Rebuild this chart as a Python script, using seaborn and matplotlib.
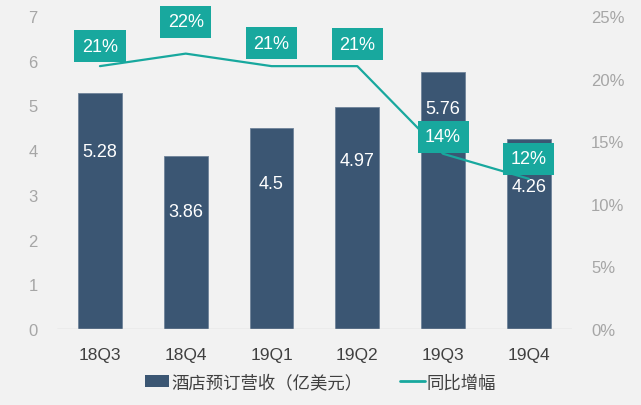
import numpy as np
import pandas as pd
import matplotlib
matplotlib.use("Agg")
import matplotlib.pyplot as plt
import seaborn as sns
from matplotlib.lines import Line2D
from matplotlib.patches import Patch

# data
quarters = ["18Q3", "18Q4", "19Q1", "19Q2", "19Q3", "19Q4"]
revenue = [5.28, 3.86, 4.5, 4.97, 5.76, 4.26]          # 酒店预订营收（亿美元）
growth = [21, 22, 21, 21, 14, 12]                        # 同比增幅 (%)
revenue_labels = ["5.28", "3.86", "4.5", "4.97", "5.76", "4.26"]

bar_color = "#3b5673"
line_color = "#18a89e"
bg = "#f2f2f2"

sns.set_theme(style="white")
plt.rcParams["font.family"] = ["Liberation Sans", "Noto Sans CJK SC", "DejaVu Sans"]

df = pd.DataFrame({"quarter": quarters, "revenue": revenue, "growth": growth})

fig = plt.figure(figsize=(6.41, 4.06), dpi=100, facecolor=bg)
ax = fig.add_axes([0.089, 0.187, 0.803, 0.771])
ax.set_facecolor(bg)

sns.barplot(data=df, x="quarter", y="revenue", color=bar_color, width=0.51,
            saturation=1, edgecolor="#6f8399", linewidth=0.6, ax=ax)
ax.set_ylim(0, 7)
ax.set_xlim(-0.5, 5.5)
ax.set_yticks(range(0, 8))
ax.set_xlabel("")
ax.set_ylabel("")
ax.tick_params(axis="y", colors="#a6a6a6", labelsize=12, length=0, pad=14)
ax.tick_params(axis="x", colors="#404040", labelsize=12.5, length=0, pad=13)
for s in ax.spines.values():
    s.set_visible(False)
ax.axhline(0, color="#d0d0d0", lw=1)

# value labels inside bars (px below bar top)
drop = [59, 55, 56, 54, 37, 48]
for i, (v, lab) in enumerate(zip(revenue, revenue_labels)):
    ax.annotate(lab, (i, v), xytext=(0, -drop[i] * 0.72), textcoords="offset points",
                ha="center", va="center", color="white", fontsize=13)

ax2 = ax.twinx()
sns.lineplot(data=df, x="quarter", y="growth", color=line_color, lw=1.6, ax=ax2,
             legend=False, sort=False)
ax2.set_ylim(0, 25)
ax2.set_yticks(range(0, 30, 5))
ax2.set_yticklabels([f"{t}%" for t in range(0, 30, 5)])
ax2.set_ylabel("")
ax2.tick_params(axis="y", colors="#a6a6a6", labelsize=12, length=0, pad=14)
for s in ax2.spines.values():
    s.set_visible(False)

lift = [20, 32, 23, 22, 17, 20]
for i, g in enumerate(growth):
    ax2.annotate(f"{g}%", (i, g), xytext=(0, lift[i] * 0.72), textcoords="offset points",
                 ha="center", va="center", color="white", fontsize=13,
                 bbox=dict(boxstyle="square,pad=0.42", fc=line_color, ec="none"))

handles = [Patch(facecolor=bar_color, edgecolor="none"),
           Line2D([0], [0], color=line_color, lw=2)]
fig.legend(handles, ["酒店预订营收（亿美元）", "同比增幅"], loc="center",
           bbox_to_anchor=(0.5, 0.057), ncol=2, frameon=False, fontsize=12.5,
           handlelength=1.4, handletextpad=0.1, columnspacing=2.2,
           labelcolor="#404040")

fig.savefig("out.png", dpi=100, facecolor=bg)
